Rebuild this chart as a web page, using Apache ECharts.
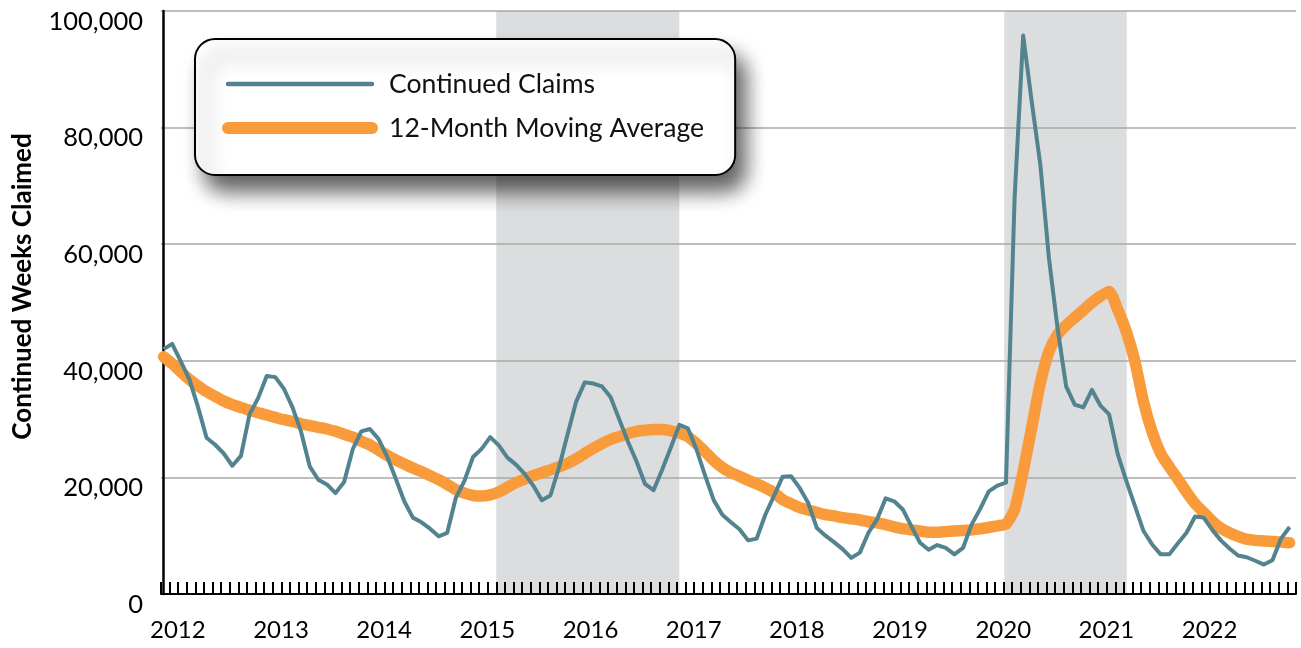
<!DOCTYPE html>
<html><head><meta charset="utf-8">
<script src="https://cdn.jsdelivr.net/npm/echarts@6/dist/echarts.min.js"></script>
<style>html,body{margin:0;padding:0;background:#fff}#c{width:1301px;height:648px}</style>
</head><body><div id="c"></div>
<script>
const years = ['2012','2013','2014','2015','2016','2017','2018','2019','2020','2021','2022'];
const monthNumbers = ['01','02','03','04','05','06','07','08','09','10','11','12'];
const seriesNames = ['Continued Claims', '12-Month Moving Average'];
const yTitle = 'Continued Weeks Claimed';

// monthly values, Jan 2012 .. Dec 2022
const continuedClaims = [
  42000,42900,39900,36800,32100,26800,25600,24100,22000,23700,30800,33600,
  37400,37200,35200,32000,27800,21900,19600,18800,17300,19200,24800,27900,
  28300,26600,23600,19800,15900,13100,12300,11200,9900,10500,16500,19400,
  23500,24900,26900,25500,23400,22200,20600,18600,16100,16900,21700,27400,
  33000,36300,36100,35600,33800,30000,26200,22800,18900,17800,21300,25100,
  29000,28400,24800,20300,16100,13600,12300,11100,9200,9500,13600,16800,
  20100,20200,18200,15600,11300,10000,8900,7700,6200,7100,10500,12800,
  16400,15900,14500,11600,8800,7600,8400,7900,6800,7900,11900,14600,
  17600,18600,19100,67800,95800,84400,73600,57600,45600,35600,32500,32000,
  35000,32300,30800,24000,19400,15100,10800,8500,6800,6800,8700,10500,
  13300,13100,11000,9200,7800,6600,6300,5700,5050,5800,9500,11500
];
const movingAverage = [
  40700,39500,38100,36800,35700,34700,33900,33100,32500,32000,31500,31100,
  30700,30300,29900,29600,29200,28900,28600,28300,27900,27400,26900,26200,
  25600,24700,23800,23000,22300,21600,21000,20300,19600,18800,17900,17300,
  16900,16800,17000,17500,18300,19100,19700,20300,20800,21300,21800,22400,
  23200,24100,25000,25800,26500,27000,27500,27900,28100,28200,28200,28000,
  27600,27000,25800,24400,22900,21700,20800,20200,19500,18900,18200,17400,
  16200,15500,14800,14400,14000,13600,13400,13100,12900,12700,12400,12200,
  11900,11500,11200,11000,10800,10600,10600,10700,10800,10900,11000,11200,
  11400,11700,12000,14500,21000,28600,36200,41600,44500,46100,47400,48700,
  50000,51100,51900,48800,45000,39900,33000,27800,24100,21800,19700,17500,
  15500,14000,12500,11300,10500,9900,9400,9200,9100,9000,8900,8800
];
// shaded periods, in month-index units (0 = Jan 2012)
const shadeStart = [38.7, 97.8];
const shadeEnd = [60.0, 112.05];

const categories = [];
years.forEach(y => monthNumbers.forEach(m => categories.push(y + '-' + m)));
const claimsData = continuedClaims.map((v, i) => [i, v]);
const avgData = movingAverage.map((v, i) => [i, v]);

const FONT = 'Lato, "Open Sans", sans-serif';
const TEAL = '#52838f';
const ORANGE = '#f99a3b';

const chart = echarts.init(document.getElementById('c'), null, {renderer: 'canvas'});
chart.setOption({
  animation: false,
  textStyle: {fontFamily: FONT},
  grid: {left: 161, right: 5, top: 11, bottom: 54, containLabel: false},
  legend: {
    orient: 'vertical', left: 195, top: 39,
    padding: [31, 31, 33, 27], itemGap: 16, itemWidth: 144, itemHeight: 14,
    backgroundColor: '#fff', borderColor: '#000', borderWidth: 2, borderRadius: 20,
    shadowBlur: 20, shadowColor: 'rgba(0,0,0,0.62)', shadowOffsetX: 10, shadowOffsetY: 16,
    selectedMode: false,
    textStyle: {fontFamily: FONT, fontSize: 26.6, lineHeight: 28, color: '#111', padding: [0, 0, 0, 12]},
    data: [
      {name: seriesNames[0], itemStyle: {opacity: 0}, lineStyle: {width: 4.5, cap: 'round', color: TEAL}},
      {name: seriesNames[1], itemStyle: {opacity: 0}, lineStyle: {width: 12, cap: 'round', color: ORANGE}}
    ]
  },
  xAxis: [
    {
      type: 'category', data: categories, boundaryGap: true, z: 2,
      axisLine: {lineStyle: {color: '#000', width: 2}},
      axisTick: {show: true, interval: 0, inside: true, length: 12, lineStyle: {color: '#000', width: 2}},
      axisLabel: {
        interval: (i) => i % 12 === 0,
        formatter: (v) => v.slice(0, 4),
        fontFamily: FONT, fontSize: 24, color: '#000', margin: 24, padding: [0, 0, 0, 25]
      },
      splitLine: {show: false}
    },
    {type: 'value', min: -0.3, max: 131.74, show: false}
  ],
  yAxis: {
    type: 'value', min: 0, max: 100000, interval: 20000, z: 2,
    name: yTitle, nameLocation: 'middle', nameRotate: 90, nameGap: 125,
    nameTextStyle: {fontFamily: FONT, fontSize: 26, fontWeight: 'bold', color: '#000', padding: [0, 0, 0, 32]},
    axisLine: {show: true, lineStyle: {color: '#000', width: 2.5}},
    axisTick: {show: false},
    axisLabel: {fontFamily: FONT, fontSize: 25.5, color: '#000', margin: 18,
      verticalAlign: 'top', lineHeight: 21,
      formatter: (v) => v.toString().replace(/\B(?=(\d{3})+(?!\d))/g, ',')},
    splitLine: {show: true, lineStyle: {color: '#a8a8a8', width: 1.5}}
  },
  series: [
    {
      name: '_shade', type: 'line', xAxisIndex: 1, data: [], z: 1, silent: true,
      markArea: {
        silent: true, z: 1, itemStyle: {color: '#dcdddf'},
        data: shadeStart.map((s, i) => [{xAxis: s}, {xAxis: shadeEnd[i]}])
      }
    },
    {
      name: seriesNames[1], type: 'line', xAxisIndex: 1, data: avgData, z: 3,
      symbol: 'none', smooth: 0.2,
      lineStyle: {color: ORANGE, width: 11.5, cap: 'round', join: 'round'},
      itemStyle: {color: ORANGE}
    },
    {
      name: seriesNames[0], type: 'line', xAxisIndex: 1, data: claimsData, z: 4,
      symbol: 'none',
      lineStyle: {color: TEAL, width: 4, join: 'round'},
      itemStyle: {color: TEAL}
    }
  ]
});
</script>
</body></html>
